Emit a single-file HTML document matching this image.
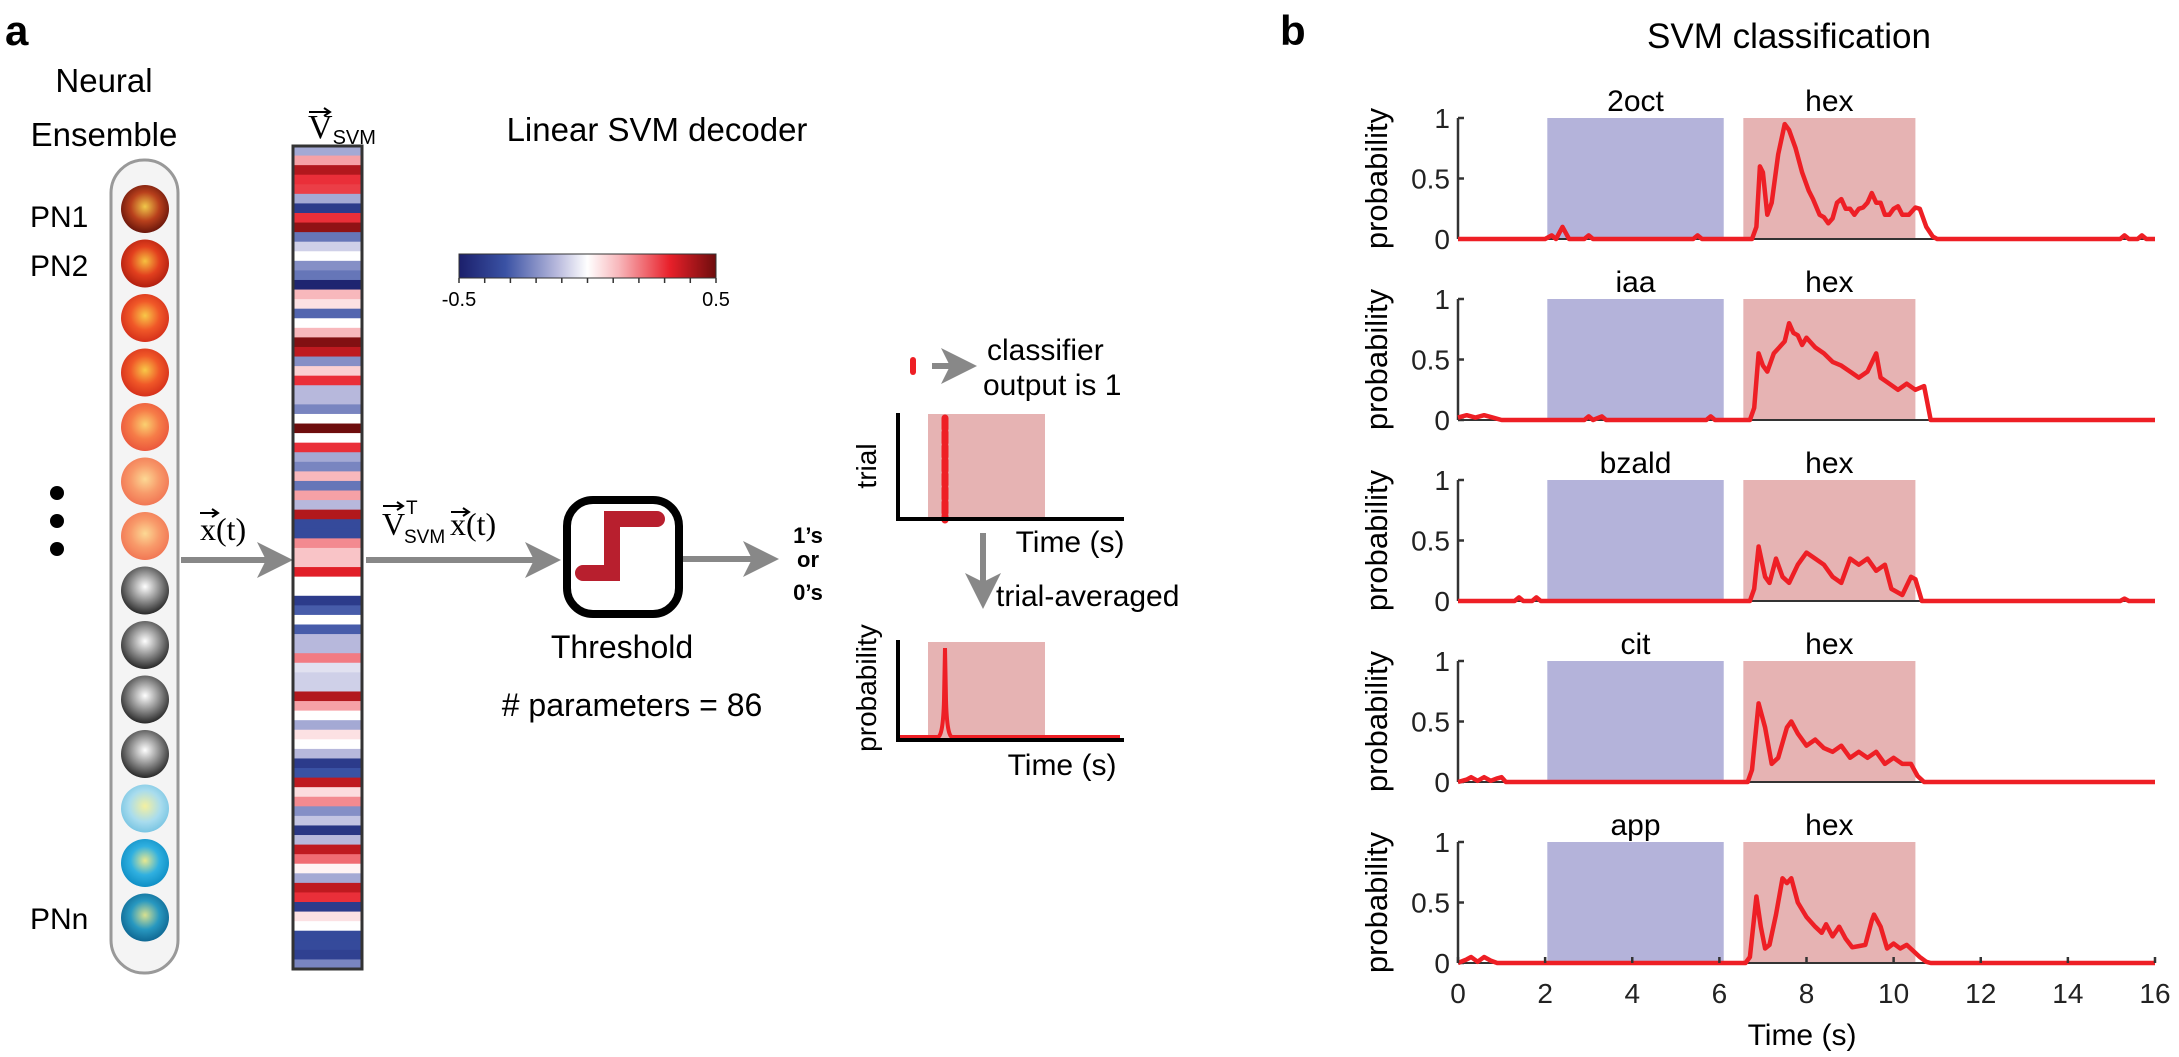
<!DOCTYPE html>
<html><head><meta charset="utf-8">
<style>
html,body{margin:0;padding:0;background:#fff;}
svg{display:block;font-family:"Liberation Sans",Arial,sans-serif;}
</style></head>
<body>
<svg id="fig" width="2179" height="1057" viewBox="0 0 2179 1057" xmlns="http://www.w3.org/2000/svg">
<defs>
<marker id="ah" markerWidth="6" markerHeight="6" refX="4.5" refY="3" orient="auto" markerUnits="strokeWidth"><path d="M0,0 L6,3 L0,6 L1.5,3 Z" fill="#888"/></marker>
<linearGradient id="cmap" x1="0" x2="1" y1="0" y2="0">
<stop offset="0" stop-color="#1b1f6b"/><stop offset="0.18" stop-color="#3a52a4"/><stop offset="0.38" stop-color="#b7b8dc"/><stop offset="0.5" stop-color="#ffffff"/><stop offset="0.62" stop-color="#f8b8bc"/><stop offset="0.82" stop-color="#e8202a"/><stop offset="1" stop-color="#6e0d0d"/>
</linearGradient>
<radialGradient id="g0" cx="0.5" cy="0.45" r="0.6"><stop offset="0" stop-color="#f0c84a"/><stop offset="0.5" stop-color="#b8401c"/><stop offset="1" stop-color="#5a0e08"/></radialGradient>
<radialGradient id="g1" cx="0.5" cy="0.45" r="0.6"><stop offset="0" stop-color="#f6c040"/><stop offset="0.5" stop-color="#e2401e"/><stop offset="1" stop-color="#a8180c"/></radialGradient>
<radialGradient id="g2" cx="0.5" cy="0.45" r="0.6"><stop offset="0" stop-color="#f8c848"/><stop offset="0.5" stop-color="#f05828"/><stop offset="1" stop-color="#d02818"/></radialGradient>
<radialGradient id="g3" cx="0.5" cy="0.45" r="0.6"><stop offset="0" stop-color="#fad070"/><stop offset="0.5" stop-color="#f67c48"/><stop offset="1" stop-color="#e8503a"/></radialGradient>
<radialGradient id="g4" cx="0.5" cy="0.45" r="0.6"><stop offset="0" stop-color="#fcd894"/><stop offset="0.5" stop-color="#f89a6a"/><stop offset="1" stop-color="#f07050"/></radialGradient>
<radialGradient id="gg" cx="0.5" cy="0.42" r="0.6"><stop offset="0" stop-color="#ffffff"/><stop offset="0.5" stop-color="#909090"/><stop offset="1" stop-color="#202020"/></radialGradient>
<radialGradient id="gb1" cx="0.5" cy="0.45" r="0.6"><stop offset="0" stop-color="#f4f0a0"/><stop offset="0.55" stop-color="#a8dcee"/><stop offset="1" stop-color="#70c0e0"/></radialGradient>
<radialGradient id="gb2" cx="0.5" cy="0.45" r="0.6"><stop offset="0" stop-color="#e8e890"/><stop offset="0.5" stop-color="#30b0e0"/><stop offset="1" stop-color="#0888c0"/></radialGradient>
<radialGradient id="gb3" cx="0.5" cy="0.45" r="0.6"><stop offset="0" stop-color="#d8e090"/><stop offset="0.5" stop-color="#2898c0"/><stop offset="1" stop-color="#0a5e8a"/></radialGradient>
</defs>

<text x="5" y="45" font-size="42" font-weight="bold">a</text>
<text x="1280" y="45" font-size="42" font-weight="bold">b</text>

<text x="104" y="92" font-size="33" text-anchor="middle">Neural</text>
<text x="104" y="146" font-size="33" text-anchor="middle">Ensemble</text>
<rect x="111" y="160" width="67" height="813" rx="33" fill="#f4f4f4" stroke="#999" stroke-width="3"/>
<g id="neurons"></g>
<text x="30" y="227" font-size="30">PN1</text>
<text x="30" y="276" font-size="30">PN2</text>
<text x="30" y="929" font-size="30">PNn</text>
<circle cx="57" cy="493" r="7" fill="#000"/>
<circle cx="57" cy="521" r="7" fill="#000"/>
<circle cx="57" cy="549" r="7" fill="#000"/>

<line x1="181" y1="560" x2="284" y2="560" stroke="#888" stroke-width="6" marker-end="url(#ah)"/>
<text x="200" y="540" font-size="32" font-family="Liberation Serif, serif">x(t)</text>
<line x1="200" y1="513" x2="216" y2="513" stroke="#000" stroke-width="2"/><path d="M212,509 L218,513 L212,517" fill="none" stroke="#000" stroke-width="2"/>

<text x="308" y="138" font-size="34" font-family="Liberation Serif, serif">V<tspan font-size="20" font-family="Liberation Sans, sans-serif" dy="6">SVM</tspan></text>
<line x1="309" y1="112" x2="329" y2="112" stroke="#000" stroke-width="2"/><path d="M324,108 L330,112 L324,116" fill="none" stroke="#000" stroke-width="2"/>
<g id="weights"></g>

<text x="657" y="141" font-size="33" text-anchor="middle">Linear SVM decoder</text>
<rect x="459" y="254" width="257" height="24" fill="url(#cmap)" stroke="#333" stroke-width="1"/>
<g id="cbticks"></g>
<text x="459" y="306" font-size="20" text-anchor="middle">-0.5</text>
<text x="716" y="306" font-size="20" text-anchor="middle">0.5</text>

<line x1="366" y1="560" x2="552" y2="560" stroke="#888" stroke-width="6" marker-end="url(#ah)"/>
<g>
<text x="382" y="535" font-size="32" font-family="Liberation Serif, serif">V</text>
<text x="404" y="543" font-size="19">SVM</text>
<text x="406" y="514" font-size="19">T</text>
<text x="450" y="535" font-size="32" font-family="Liberation Serif, serif">x(t)</text>
</g>
<line x1="383" y1="506" x2="401" y2="506" stroke="#000" stroke-width="2"/><path d="M397,502 L403,506 L397,510" fill="none" stroke="#000" stroke-width="2"/>
<line x1="451" y1="512" x2="467" y2="512" stroke="#000" stroke-width="2"/><path d="M463,508 L469,512 L463,516" fill="none" stroke="#000" stroke-width="2"/>

<rect x="567" y="500" width="112" height="114" rx="26" fill="#fff" stroke="#000" stroke-width="8"/>
<path d="M583,573 L612,573 L612,519 L657,519" fill="none" stroke="#b81f2e" stroke-width="16" stroke-linecap="round"/>
<text x="622" y="658" font-size="32" text-anchor="middle">Threshold</text>
<text x="632" y="716" font-size="32" text-anchor="middle"># parameters = 86</text>
<line x1="683" y1="559" x2="770" y2="559" stroke="#888" stroke-width="6" marker-end="url(#ah)"/>
<g font-size="22" font-weight="bold" text-anchor="middle">
<text x="808" y="543">1’s</text><text x="808" y="567">or</text><text x="808" y="600">0’s</text></g>

<rect x="910" y="357" width="6" height="18" rx="3" fill="#ee1f25"/>
<line x1="932" y1="366" x2="968" y2="366" stroke="#888" stroke-width="6" marker-end="url(#ah)"/>
<text x="987" y="360" font-size="30">classifier</text>
<text x="983" y="395" font-size="30">output is 1</text>

<rect x="928" y="414" width="117" height="103" fill="#e6b3b3"/>
<line x1="945" y1="418" x2="945" y2="520" stroke="#ee1f25" stroke-width="7" stroke-dasharray="11,3" stroke-linecap="round"/>
<path d="M898,413 L898,519 L1124,519" fill="none" stroke="#000" stroke-width="4"/>
<text x="876" y="466" font-size="28" text-anchor="middle" transform="rotate(-90 876 466)">trial</text>
<text x="1070" y="552" font-size="30" text-anchor="middle">Time (s)</text>

<line x1="983" y1="533" x2="983" y2="600" stroke="#888" stroke-width="6" marker-end="url(#ah)"/>
<text x="996" y="606" font-size="30">trial-averaged</text>

<rect x="928" y="642" width="117" height="97" fill="#e6b3b3"/>
<path d="M900,737 L938,737 Q943,736 944,700 L945,648 L946,700 Q947,736 952,737 L1120,737" fill="none" stroke="#ee1f25" stroke-width="4"/>
<path d="M898,640 L898,740 L1124,740" fill="none" stroke="#000" stroke-width="4"/>
<text x="876" y="688" font-size="28" text-anchor="middle" transform="rotate(-90 876 688)">probability</text>
<text x="1062" y="775" font-size="30" text-anchor="middle">Time (s)</text>

<text x="1789" y="48" font-size="35" text-anchor="middle">SVM classification</text>
<g id="panelb"></g>
</svg>

<script>
var neuronFills = ['g0','g1','g2','g2','g3','g4','g4','gg','gg','gg','gg','gb1','gb2','gb3'];
var svmWeights = [-0.15,0.15,0.4,0.3,0.28,-0.15,-0.4,0.3,0.45,-0.25,-0.08,0,-0.2,-0.25,-0.48,0.12,0.05,-0.28,0,0.12,0.47,0.38,-0.2,0.08,0.3,-0.12,-0.12,-0.22,0,0.5,0,0.3,-0.15,-0.22,0.12,-0.25,0.15,-0.12,0.4,-0.35,-0.35,0.18,0.1,0.1,0.33,0,0,-0.4,-0.3,0,-0.3,-0.12,-0.12,0.2,-0.05,-0.08,-0.08,0.4,0.15,0,-0.15,0.05,0,-0.12,-0.4,-0.32,0.38,0.06,0.18,-0.2,-0.1,-0.42,-0.12,0.38,0.22,0.02,-0.15,0.38,0.3,-0.4,0.05,0,-0.35,-0.35,-0.38,-0.22];
var odorLabels = ['2oct','iaa','bzald','cit','app'];
var odorOn = [2.05,2.05,2.05,2.05,2.05], odorOff = [6.1,6.1,6.1,6.1,6.1];
var hexOn = 6.55, hexOff = 10.5;
var xTicks = [0,2,4,6,8,10,12,14,16];
var yTicks = [0,0.5,1];
var yTickLabels = ['0','0.5','1'];
var t1 = [0,2.0,2.15,2.25,2.4,2.55,2.9,3.0,3.1,5.4,5.5,5.6,6.75,6.85,6.93,7.0,7.1,7.2,7.35,7.5,7.6,7.75,7.9,8.05,8.15,8.3,8.4,8.5,8.6,8.7,8.8,8.9,9.0,9.1,9.2,9.3,9.4,9.5,9.6,9.7,9.8,9.9,10.0,10.1,10.2,10.35,10.5,10.6,10.75,10.9,11.0,15.2,15.3,15.4,15.6,15.7,15.8,16];
var p1 = [0,0,0.03,0,0.1,0,0,0.03,0,0,0.03,0,0,0.1,0.6,0.55,0.2,0.3,0.7,0.95,0.9,0.75,0.55,0.4,0.33,0.2,0.18,0.13,0.17,0.3,0.33,0.25,0.25,0.2,0.25,0.26,0.3,0.38,0.3,0.3,0.2,0.2,0.25,0.27,0.2,0.2,0.26,0.25,0.1,0.02,0,0,0.03,0,0,0.03,0,0];
var t2 = [0,0.2,0.4,0.6,0.8,1.0,2.9,3.0,3.1,3.3,3.4,5.7,5.8,5.9,6.7,6.8,6.9,7.0,7.1,7.25,7.5,7.6,7.7,7.8,7.9,8.0,8.2,8.4,8.6,8.8,9.0,9.2,9.4,9.6,9.7,9.9,10.1,10.3,10.5,10.7,10.85,16];
var p2 = [0.02,0.04,0.02,0.04,0.02,0,0,0.03,0,0.03,0,0,0.03,0,0,0.1,0.55,0.45,0.4,0.55,0.65,0.8,0.72,0.7,0.62,0.68,0.6,0.55,0.48,0.45,0.4,0.35,0.4,0.55,0.35,0.3,0.25,0.3,0.25,0.28,0,0];
var t3 = [0,1.3,1.4,1.5,1.7,1.8,1.9,6.7,6.8,6.9,7.05,7.15,7.3,7.45,7.6,7.8,8.0,8.2,8.4,8.6,8.8,9.0,9.2,9.4,9.6,9.8,9.95,10.2,10.4,10.5,10.65,15.2,15.3,15.4,16];
var p3 = [0,0,0.03,0,0,0.03,0,0,0.1,0.45,0.2,0.15,0.35,0.2,0.15,0.3,0.4,0.35,0.3,0.2,0.15,0.35,0.3,0.35,0.25,0.3,0.1,0.05,0.2,0.18,0,0,0.02,0,0];
var t4 = [0,0.2,0.3,0.45,0.6,0.75,0.9,1.0,1.1,6.65,6.75,6.9,7.05,7.2,7.35,7.55,7.65,7.8,8.0,8.2,8.4,8.6,8.8,9.0,9.2,9.4,9.6,9.8,10.0,10.2,10.4,10.55,10.7,16];
var p4 = [0,0.02,0.04,0.01,0.04,0.01,0.03,0.04,0,0,0.1,0.65,0.45,0.15,0.2,0.45,0.5,0.4,0.3,0.35,0.28,0.25,0.3,0.2,0.25,0.2,0.25,0.15,0.2,0.15,0.15,0.05,0,0];
var t5 = [0,0.2,0.3,0.45,0.6,0.75,0.9,6.6,6.7,6.85,6.95,7.05,7.15,7.3,7.45,7.55,7.65,7.8,8.0,8.2,8.35,8.45,8.6,8.75,8.9,9.05,9.2,9.35,9.5,9.55,9.7,9.85,10.0,10.15,10.3,10.45,10.6,10.75,10.85,16];
var p5 = [0,0.03,0.05,0.01,0.05,0.02,0,0,0.05,0.55,0.3,0.12,0.15,0.4,0.7,0.66,0.7,0.5,0.38,0.3,0.25,0.32,0.22,0.3,0.2,0.13,0.14,0.15,0.35,0.4,0.3,0.12,0.16,0.12,0.15,0.1,0.05,0.01,0,0];
var seriesT = [t1,t2,t3,t4,t5];
var seriesP = [p1,p2,p3,p4,p5];

(function(){
var NS = 'http://www.w3.org/2000/svg';
function mk(tag, attrs, parent){var e=document.createElementNS(NS,tag);for(var k in attrs)e.setAttribute(k,attrs[k]);parent.appendChild(e);return e;}

var ng = document.getElementById('neurons');
for (var i=0;i<neuronFills.length;i++){
  var c = mk('circle',{cx:145,cy:209+i*54.5,r:24,fill:'url(#'+neuronFills[i]+')'},ng);
  
  
}

var cstops=[[-0.5,[27,31,107]],[-0.32,[58,82,164]],[-0.12,[183,184,220]],[0,[255,255,255]],[0.12,[248,184,188]],[0.32,[232,32,42]],[0.5,[110,13,13]]];
function cmap(v){
  v=Math.max(-0.5,Math.min(0.5,v));
  for(var i=0;i<cstops.length-1;i++){var a=cstops[i],b=cstops[i+1];
    if(v<=b[0]){var f=(v-a[0])/(b[0]-a[0]);var c=a[1].map(function(x,j){return Math.round(x+(b[1][j]-x)*f);});return 'rgb('+c.join(',')+')';}}
  return 'rgb(110,13,13)';
}
var wg=document.getElementById('weights');
var colTop=146,colBot=969,colX=293,colW=69;
var sh=(colBot-colTop)/svmWeights.length;
for(var i=0;i<svmWeights.length;i++){
  var r=mk('rect',{x:colX,y:colTop+i*sh,width:colW,height:sh+0.6,fill:cmap(svmWeights[i])},wg);
  
  
}
var fr=mk('rect',{x:colX,y:colTop,width:colW,height:colBot-colTop,fill:'none',stroke:'#333','stroke-width':3},wg);



var cbt=document.getElementById('cbticks');
for(var i=0;i<=10;i++){var x=459+i*25.7;mk('line',{x1:x,y1:278,x2:x,y2:283,stroke:'#333','stroke-width':1.5},cbt);}

var pb=document.getElementById('panelb');
var X0=1458,X1=2155,tMax=16;
function sx(t){return X0+(X1-X0)*t/tMax;}
var rowTop0=118,rowH=121,rowGap=181;
for(var r=0;r<5;r++){
  var rtop=rowTop0+r*rowGap, rbot=rtop+rowH;
  var sy=function(p){return rbot-rowH*p;};
  var g=mk('g',{},pb);
  
  
  var b=mk('rect',{x:sx(odorOn[r]),y:sy(1),width:sx(odorOff[r])-sx(odorOn[r]),height:rowH,fill:'#b4b3da'},g);
  
  
  var h=mk('rect',{x:sx(hexOn),y:sy(1),width:sx(hexOff)-sx(hexOn),height:rowH,fill:'#e6b3b3'},g);
  
  
  var l1=mk('text',{x:(sx(odorOn[r])+sx(odorOff[r]))/2,y:rtop-7,'font-size':30,'text-anchor':'middle'},g);l1.textContent=odorLabels[r];
  
  
  var l2=mk('text',{x:(sx(hexOn)+sx(hexOff))/2,y:rtop-7,'font-size':30,'text-anchor':'middle'},g);l2.textContent='hex';
  
  
  mk('line',{x1:X0,y1:rbot,x2:X1,y2:rbot,stroke:'#333','stroke-width':2},g);
  mk('line',{x1:X0,y1:sy(1),x2:X0,y2:rbot,stroke:'#333','stroke-width':2.5},g);
  for(var k=0;k<yTicks.length;k++){
    mk('line',{x1:X0,y1:sy(yTicks[k]),x2:X0+6,y2:sy(yTicks[k]),stroke:'#333','stroke-width':2.5},g);
    var tl=mk('text',{x:X0-8,y:sy(yTicks[k])+10,'font-size':28,'text-anchor':'end',fill:'#222'},g);tl.textContent=yTickLabels[k];
    
    
  }
  var yt=mk('text',{x:0,y:0,'font-size':31,'text-anchor':'middle',transform:'translate(1387,'+(rtop+rowH/2)+') rotate(-90)'},g);yt.textContent='probability';
  
  
  var d='';
  for(var k=0;k<seriesT[r].length;k++){d+=(k?'L':'M')+sx(seriesT[r][k]).toFixed(1)+','+sy(seriesP[r][k]).toFixed(1);}
  var pth=mk('path',{d:d,fill:'none',stroke:'#ee1f25','stroke-width':4.5,'stroke-linejoin':'round'},g);
  
  
  if(r==4){
    for(var k=0;k<xTicks.length;k++){
      mk('line',{x1:sx(xTicks[k]),y1:rbot,x2:sx(xTicks[k]),y2:rbot-6,stroke:'#333','stroke-width':2.5},g);
      var xl=mk('text',{x:sx(xTicks[k]),y:rbot+40,'font-size':28,'text-anchor':'middle',fill:'#222'},g);xl.textContent=xTicks[k];
      
      
    }
    var xt=mk('text',{x:1802,y:1045,'font-size':30,'text-anchor':'middle'},g);xt.textContent='Time (s)';
    
    
  }
}
})();
</script>
</body></html>
